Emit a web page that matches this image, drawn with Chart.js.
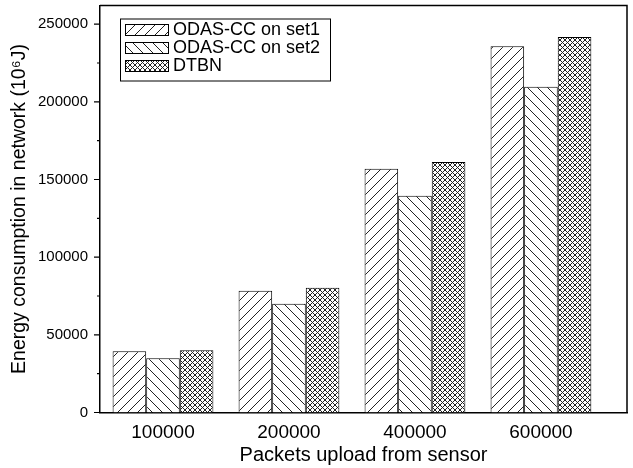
<!DOCTYPE html>
<html>
<head>
<meta charset="utf-8">
<script src="https://cdn.jsdelivr.net/npm/chart.js@4.4.1/dist/chart.umd.min.js"></script>
<style>
html,body{margin:0;padding:0;background:#fff;}
#wrap{width:633px;height:468px;}
</style>
</head>
<body>
<div id="wrap"><canvas id="c" width="633" height="468"></canvas></div>
<script>
// ---- data ----
const categories = ['100000', '200000', '400000', '600000'];
const seriesNames = ['ODAS-CC on set1', 'ODAS-CC on set2', 'DTBN'];
const set1Values = [39400, 78400, 156900, 235800];
const set2Values = [34900, 70000, 139500, 209700];
const dtbnValues = [40000, 80300, 161200, 241800];
const yTickValues = [0, 50000, 100000, 150000, 200000, 250000];
const yMinorTickValues = [25000, 75000, 125000, 175000, 225000];
const yTitle = 'Energy consumption in network (10\u2076J)';
const xTitle = 'Packets upload from sensor';

// ---- hatch patterns ----
function makePattern(kind) {
  const s = kind === 'cross' ? 5 : 10;
  const cv = document.createElement('canvas');
  cv.width = s; cv.height = s;
  const g = cv.getContext('2d');
  g.fillStyle = '#fff'; g.fillRect(0, 0, s, s);
  g.strokeStyle = '#222'; g.lineWidth = 1;
  function fwd() { g.beginPath(); g.moveTo(-1, s + 1); g.lineTo(s + 1, -1); g.moveTo(-1, 1); g.lineTo(1, -1); g.moveTo(s - 1, s + 1); g.lineTo(s + 1, s - 1); g.stroke(); }
  function back() { g.beginPath(); g.moveTo(-1, -1); g.lineTo(s + 1, s + 1); g.moveTo(s - 1, -1); g.lineTo(s + 1, 1); g.moveTo(-1, s - 1); g.lineTo(1, s + 1); g.stroke(); }
  if (kind === 'fwd') fwd();
  else if (kind === 'back') back();
  else { fwd(); back(); }
  return g.createPattern(cv, 'repeat');
}
const patterns = [makePattern('fwd'), makePattern('back'), makePattern('cross')];
const seriesValues = [set1Values, set2Values, dtbnValues];

const FONT = "'Liberation Sans', Arial, sans-serif";

const framePlugin = {
  id: 'frame',
  afterDraw(chart) {
    const ctx = chart.ctx, ca = chart.chartArea;
    ctx.save();
    ctx.strokeStyle = '#000';
    ctx.lineWidth = 1.5;
    ctx.beginPath();
    ctx.moveTo(ca.left, ca.top); ctx.lineTo(ca.right, ca.top); ctx.lineTo(ca.right, ca.bottom);
    ctx.stroke();
    // y ticks
    const ys = chart.scales.y;
    ctx.lineWidth = 1.2;
    ctx.beginPath();
    yTickValues.forEach(v => { const p = ys.getPixelForValue(v); ctx.moveTo(ca.left - 6, p); ctx.lineTo(ca.left, p); });
    yMinorTickValues.forEach(v => { const p = ys.getPixelForValue(v); ctx.moveTo(ca.left - 3, p); ctx.lineTo(ca.left, p); });
    ctx.stroke();
    // legend
    const x0 = ca.left + 20, y0 = ca.top + 13;
    const w = 210, h = 62;
    ctx.fillStyle = '#fff';
    ctx.fillRect(x0, y0, w, h);
    ctx.lineWidth = 1;
    ctx.strokeRect(x0 + 0.5, y0 + 0.5, w, h);
    ctx.font = '18px ' + FONT;
    ctx.textBaseline = 'middle';
    ctx.textAlign = 'left';
    chart.data.datasets.forEach((ds, i) => {
      const sy = y0 + 5.5 + i * 18;
      ctx.fillStyle = ds.backgroundColor;
      ctx.fillRect(x0 + 5, sy, 43, 11);
      ctx.strokeStyle = '#000';
      ctx.strokeRect(x0 + 5.5, sy + 0.5, 43, 11);
      ctx.fillStyle = '#000';
      ctx.fillText(ds.label, x0 + 53, sy + 6.5);
    });
    ctx.restore();
  }
};

new Chart(document.getElementById('c'), {
  type: 'bar',
  data: {
    datasets: seriesNames.map((name, i) => ({
      label: name,
      data: seriesValues[i].map((v, k) => ({ x: k, y: v })),
      backgroundColor: patterns[i],
      borderColor: '#000',
      borderWidth: 1,
      categoryPercentage: 0.8,
      barPercentage: 1.0
    }))
  },
  options: {
    responsive: false,
    animation: false,
    layout: { padding: { left: 0, right: 6, top: 5.5, bottom: 0 } },
    plugins: { legend: { display: false }, tooltip: { enabled: false } },
    scales: {
      x: {
        type: 'linear',
        min: -0.5,
        max: 3.683,
        offset: false,
        grid: { display: false, drawTicks: false, offset: false },
        border: { display: true, color: '#000', width: 1.5 },
        afterBuildTicks(scale) { scale.ticks = categories.map((c, i) => ({ value: i })); },
        afterFit(scale) { scale.height = 55.5; scale.paddingLeft = 0; scale.paddingRight = 0; },
        ticks: {
          padding: 10.5,
          maxRotation: 0,
          autoSkip: false,
          color: '#000',
          font: { family: FONT, size: 19, lineHeight: 1.0 },
          callback: (v) => categories[v] !== undefined ? categories[v] : ''
        },
        title: { display: true, text: xTitle, color: '#000', font: { family: FONT, size: 20, lineHeight: 1.2 }, padding: { top: 2, bottom: 1 } }
      },
      y: {
        min: 0,
        max: 262000,
        grid: { display: false, drawTicks: false },
        border: { display: true, color: '#000', width: 1.5 },
        afterBuildTicks(scale) { scale.ticks = yTickValues.map(v => ({ value: v })); },
        afterFit(scale) { scale.width = 100; scale.paddingTop = 0; scale.paddingBottom = 0; },
        ticks: {
          padding: 12,
          color: '#000',
          font: { family: FONT, size: 15 },
          callback: (v) => String(v)
        },
        title: { display: true, text: yTitle, color: '#000', font: { family: FONT, size: 19.5, lineHeight: 1.2 }, padding: { top: 8.3, bottom: 6 } }
      }
    }
  },
  plugins: [framePlugin]
});
</script>
</body>
</html>
